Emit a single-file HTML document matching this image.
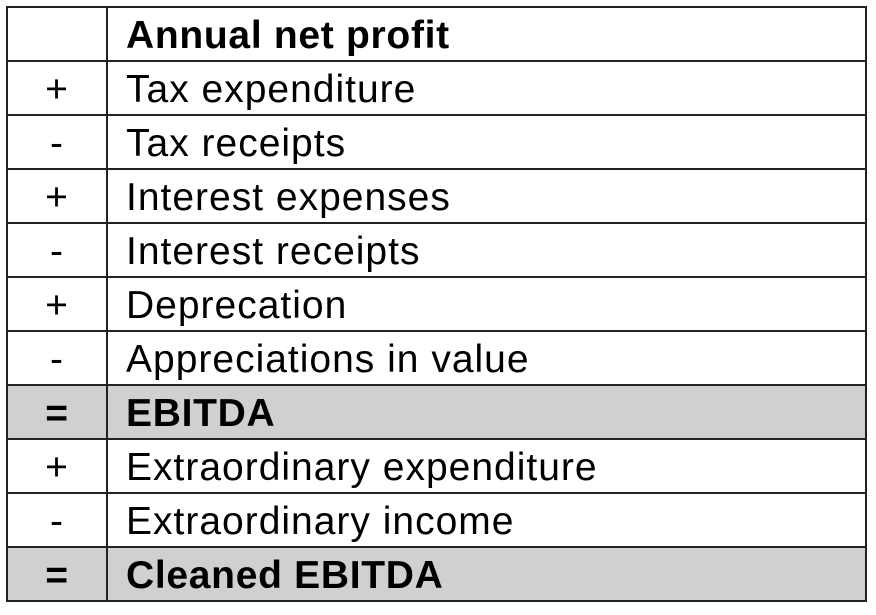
<!DOCTYPE html>
<html><head><meta charset="utf-8"><style>
body{margin:0;background:#fff;width:876px;height:610px;overflow:hidden}
svg text{font-family:"Liberation Sans",Arial,sans-serif;font-size:39px;letter-spacing:1px;fill:#000}
svg text.b{letter-spacing:0.7px;font-weight:bold}
</style></head><body>
<svg width="876" height="610" xmlns="http://www.w3.org/2000/svg">
<rect x="7" y="385" width="859" height="54" fill="#d0d0d0"/>
<rect x="7" y="547" width="859" height="54" fill="#d0d0d0"/>
<g stroke="#222" stroke-width="2" fill="none">
<rect x="7" y="7" width="859" height="594"/>
<line x1="107" y1="7" x2="107" y2="601"/>
<line x1="7" y1="61" x2="866" y2="61"/>
<line x1="7" y1="115" x2="866" y2="115"/>
<line x1="7" y1="169" x2="866" y2="169"/>
<line x1="7" y1="223" x2="866" y2="223"/>
<line x1="7" y1="277" x2="866" y2="277"/>
<line x1="7" y1="331" x2="866" y2="331"/>
<line x1="7" y1="385" x2="866" y2="385"/>
<line x1="7" y1="439" x2="866" y2="439"/>
<line x1="7" y1="493" x2="866" y2="493"/>
<line x1="7" y1="547" x2="866" y2="547"/>
</g>
<g text-anchor="middle">
<text x="57" y="102">+</text>
<text x="57" y="156">-</text>
<text x="57" y="210">+</text>
<text x="57" y="264">-</text>
<text x="57" y="318">+</text>
<text x="57" y="372">-</text>
<text x="57" y="426" class="b">=</text>
<text x="57" y="480">+</text>
<text x="57" y="534">-</text>
<text x="57" y="588" class="b">=</text>
</g>
<text x="126" y="48" class="b">Annual net profit</text>
<text x="126" y="102">Tax expenditure</text>
<text x="126" y="156">Tax receipts</text>
<text x="126" y="210">Interest expenses</text>
<text x="126" y="264">Interest receipts</text>
<text x="126" y="318">Deprecation</text>
<text x="126" y="372">Appreciations in value</text>
<text x="126" y="426" class="b">EBITDA</text>
<text x="126" y="480">Extraordinary expenditure</text>
<text x="126" y="534">Extraordinary income</text>
<text x="126" y="588" class="b">Cleaned EBITDA</text>
</svg>
</body></html>
